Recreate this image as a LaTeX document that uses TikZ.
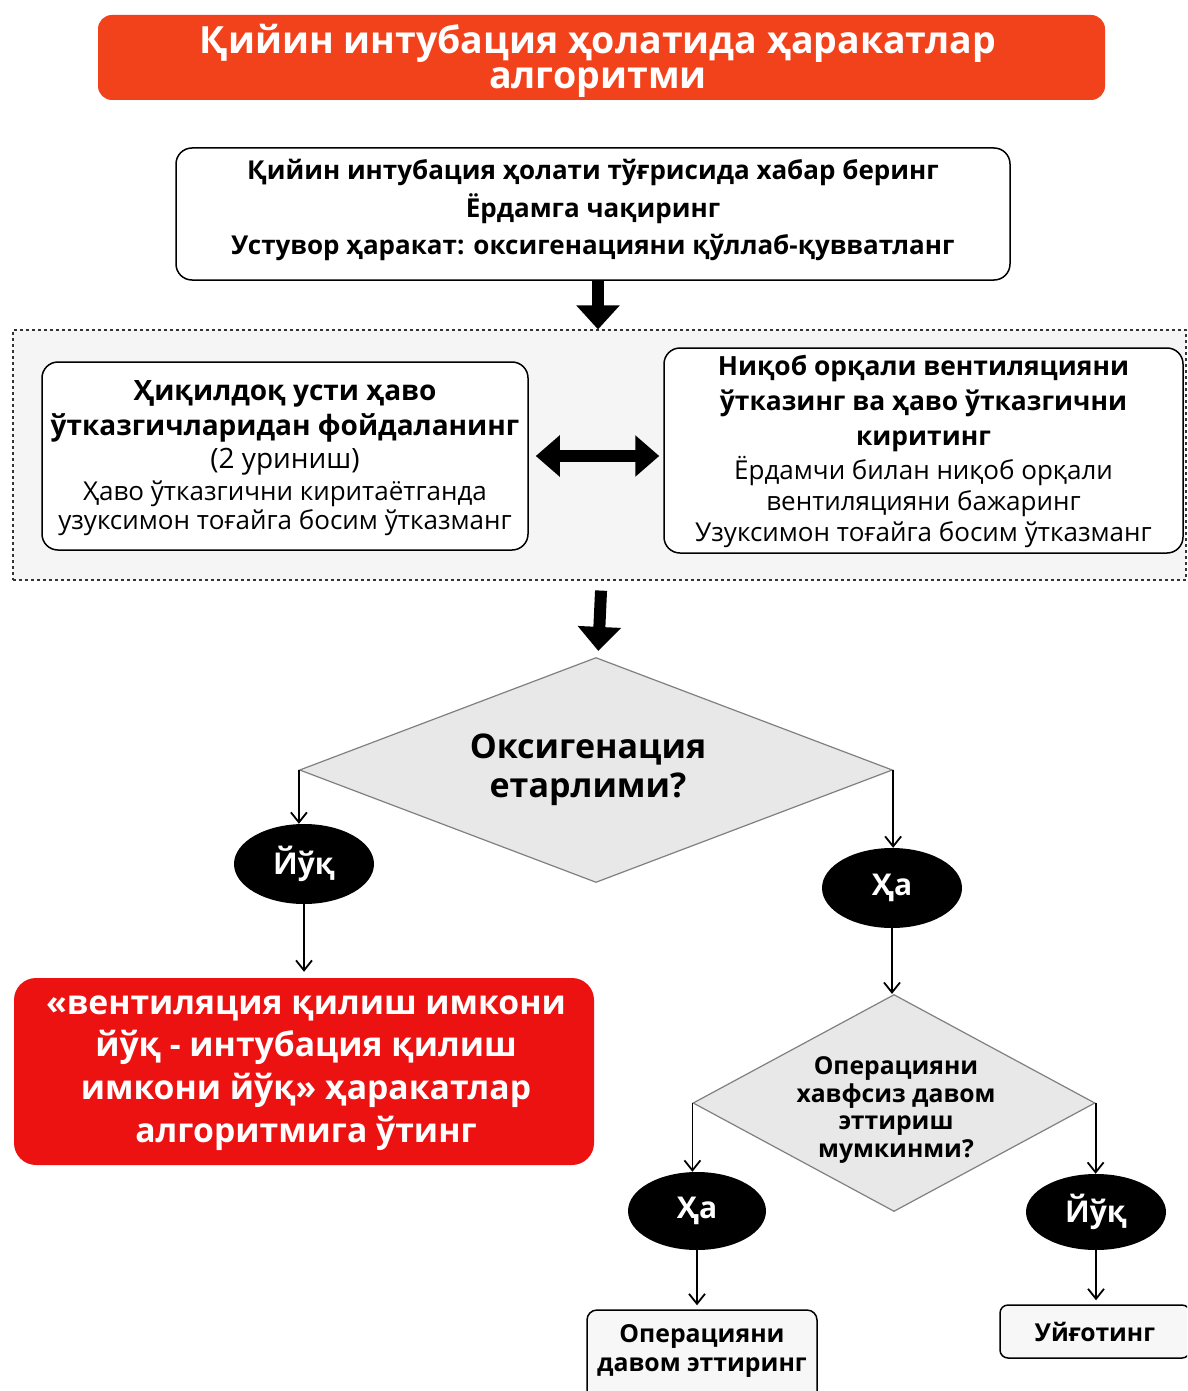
\documentclass[tikz,border=0pt]{standalone}
\usepackage{fontspec}
\setmainfont{Open Sans}
\usetikzlibrary{shapes.geometric,arrows.meta}
\definecolor{titlered}{RGB}{242,66,28}
\definecolor{boxred}{RGB}{236,18,18}
\definecolor{dgray}{RGB}{232,232,232}
\definecolor{bggray}{RGB}{245,245,245}
\newcommand{\fsz}[2]{\fontsize{#1}{#2}\selectfont}
\tikzset{
  rbox/.style={draw=black, line width=1.5pt, rounded corners=16pt, fill=white, inner sep=0pt},
  dbox/.style={diamond, draw=black!50, line width=1.2pt, fill=dgray, inner sep=0pt},
  blob/.style={ellipse, fill=black, text=white, inner sep=0pt, font=\bfseries\fsz{30}{32}},
  txt/.style={align=center, inner sep=0pt},
  thin arrow/.style={draw=black, line width=1.8pt, -{Straight Barb[length=10pt,width=16pt,line width=1.8pt]}},
  block arrow/.style={draw=black, line width=12pt, -{Triangle[length=24pt,width=42pt]}},
  dbl arrow/.style={draw=black, line width=12pt, {Triangle[length=24pt,width=40pt]}-{Triangle[length=24pt,width=40pt]}},
}
\begin{document}
\begin{tikzpicture}[x=1pt,y=-1pt]
\useasboundingbox (0,0) rectangle (1187,1391);
\clip (0,0) rectangle (1187,1391);
\fill[white] (0,0) rectangle (1187,1391);

% title
\node[fill=titlered, rounded corners=14pt, minimum width=1007pt, minimum height=85pt, inner sep=0pt] (title) at (601.5,57.5) {};
\node[txt, text=white, font=\bfseries\fsz{37.5}{35}] (titletext) at (598,60.5)
  {Қийин интубация ҳолатида ҳаракатлар\\алгоритми};

% box 1
\node[rbox, minimum width=834pt, minimum height=132pt] (b1) at (593,214) {};
\node[txt, font=\bfseries\fsz{26}{37.5}] (b1text) at (593,210)
  {Қийин интубация ҳолати тўғрисида хабар беринг\\Ёрдамга чақиринг\\Устувор ҳаракат: оксигенацияни қўллаб-қувватланг};

% dashed group
\node[draw=black!80, dashed, line width=1.2pt, fill=bggray, minimum width=1173pt, minimum height=250pt, inner sep=0pt] (grp) at (599.5,455) {};

\node[rbox, minimum width=486pt, minimum height=188pt] (lb) at (285,456) {};
\node[txt, font=\fsz{26}{31}] (lbtext) at (285,458)
  {\bfseries\fsz{28}{31}Ҳиқилдоқ усти ҳаво\\[4pt]\bfseries\fsz{28}{31}ўтказгичларидан фойдаланинг\\[2pt]
   \fsz{28}{31}(2 уриниш)\\[1pt]Ҳаво ўтказгични киритаётганда\\[-2pt]узуксимон тоғайга босим ўтказманг};

\node[rbox, minimum width=519pt, minimum height=205pt] (rb) at (923.5,450.5) {};
\node[txt, font=\fsz{26}{31}] (rbtext) at (923.5,451)
  {\bfseries\fsz{26.4}{31}Ниқоб орқали вентиляцияни\\[4pt]\bfseries\fsz{26.4}{31}ўтказинг ва ҳаво ўтказгични\\[4pt]\bfseries\fsz{26.4}{31}киритинг\\[3pt]
   Ёрдамчи билан ниқоб орқали\\вентиляцияни бажаринг\\Узуксимон тоғайга босим ўтказманг};

\coordinate (dl) at ([xshift=7pt]lb.east);
\coordinate (dr) at ([xshift=-4pt]rb.west);
\draw[dbl arrow] (dl) -- (dr |- dl);

% block arrow 1
\draw[block arrow] ([xshift=5pt]b1.south) -- ([xshift=5pt]b1.south |- grp.north);

% diamond 1
\node[dbox, shape aspect=2.64, minimum width=593pt, minimum height=225pt] (d1) at (596,770) {};
\node[txt, font=\bfseries\fsz{34}{39}] (d1text) at (588,770) {Оксигенация\\етарлими?};
\draw[block arrow, shorten <=10pt, shorten >=6pt] ([xshift=2pt]grp.south) -- ([xshift=2pt]d1.north);

% left branch
\node[blob, minimum width=140pt, minimum height=80pt] (no1) at (304,864) {Йўқ};
\draw[thin arrow] (d1.west) -- (d1.west |- no1.north);
\node[fill=boxred, rounded corners=22pt, minimum width=580pt, minimum height=187pt, inner sep=0pt] (red) at (304,1071.5) {};
\node[txt, text=white, font=\bfseries\fsz{33.7}{42.7}] (redtext) at (306,1073)
  {«вентиляция қилиш имкони\\йўқ - интубация қилиш\\имкони йўқ» ҳаракатлар\\алгоритмига ўтинг};
\draw[thin arrow, shorten >=6pt] (no1.south) -- (no1.south |- red.north);

% right branch
\node[blob, minimum width=140pt, minimum height=80pt] (yes1) at (892,888) {Ҳа};
\draw[thin arrow] (d1.east) -- (d1.east |- yes1.north);
\node[dbox, shape aspect=1.85, minimum width=402pt, minimum height=217pt] (d2) at (894,1103) {};
\node[txt, font=\bfseries\fsz{24.7}{27.7}] (d2text) at (896,1110)
  {Операцияни\\хавфсиз давом\\эттириш\\мумкинми?};
\draw[thin arrow] (yes1.south) -- (yes1.south |- d2.north);

\node[blob, minimum width=138pt, minimum height=78pt] (yes2) at (697,1211) {Ҳа};
\draw[thin arrow] (d2.west) -- (d2.west |- yes2.north);
\node[blob, minimum width=140pt, minimum height=76pt] (no2) at (1096,1212) {Йўқ};
\draw[thin arrow] (d2.east) -- (d2.east |- no2.north);

\node[draw=black, line width=1.5pt, rounded corners=10pt, fill=black!3, minimum width=230pt, minimum height=100pt, inner sep=0pt] (cont) at (702,1360) {};
\node[txt, font=\bfseries\fsz{24.8}{29}] (conttext) at (702,1351) {Операцияни\\давом эттиринг};
\draw[thin arrow, shorten >=4pt] (yes2.south) -- (yes2.south |- cont.north);

\node[draw=black, line width=1.5pt, rounded corners=8pt, fill=black!3, minimum width=190pt, minimum height=53pt,
      inner sep=0pt, font=\bfseries\fsz{24.7}{29}] (wake) at (1095,1331.5) {Уйғотинг};
\draw[thin arrow, shorten >=4pt] (no2.south) -- (no2.south |- wake.north);
\end{tikzpicture}
\end{document}
